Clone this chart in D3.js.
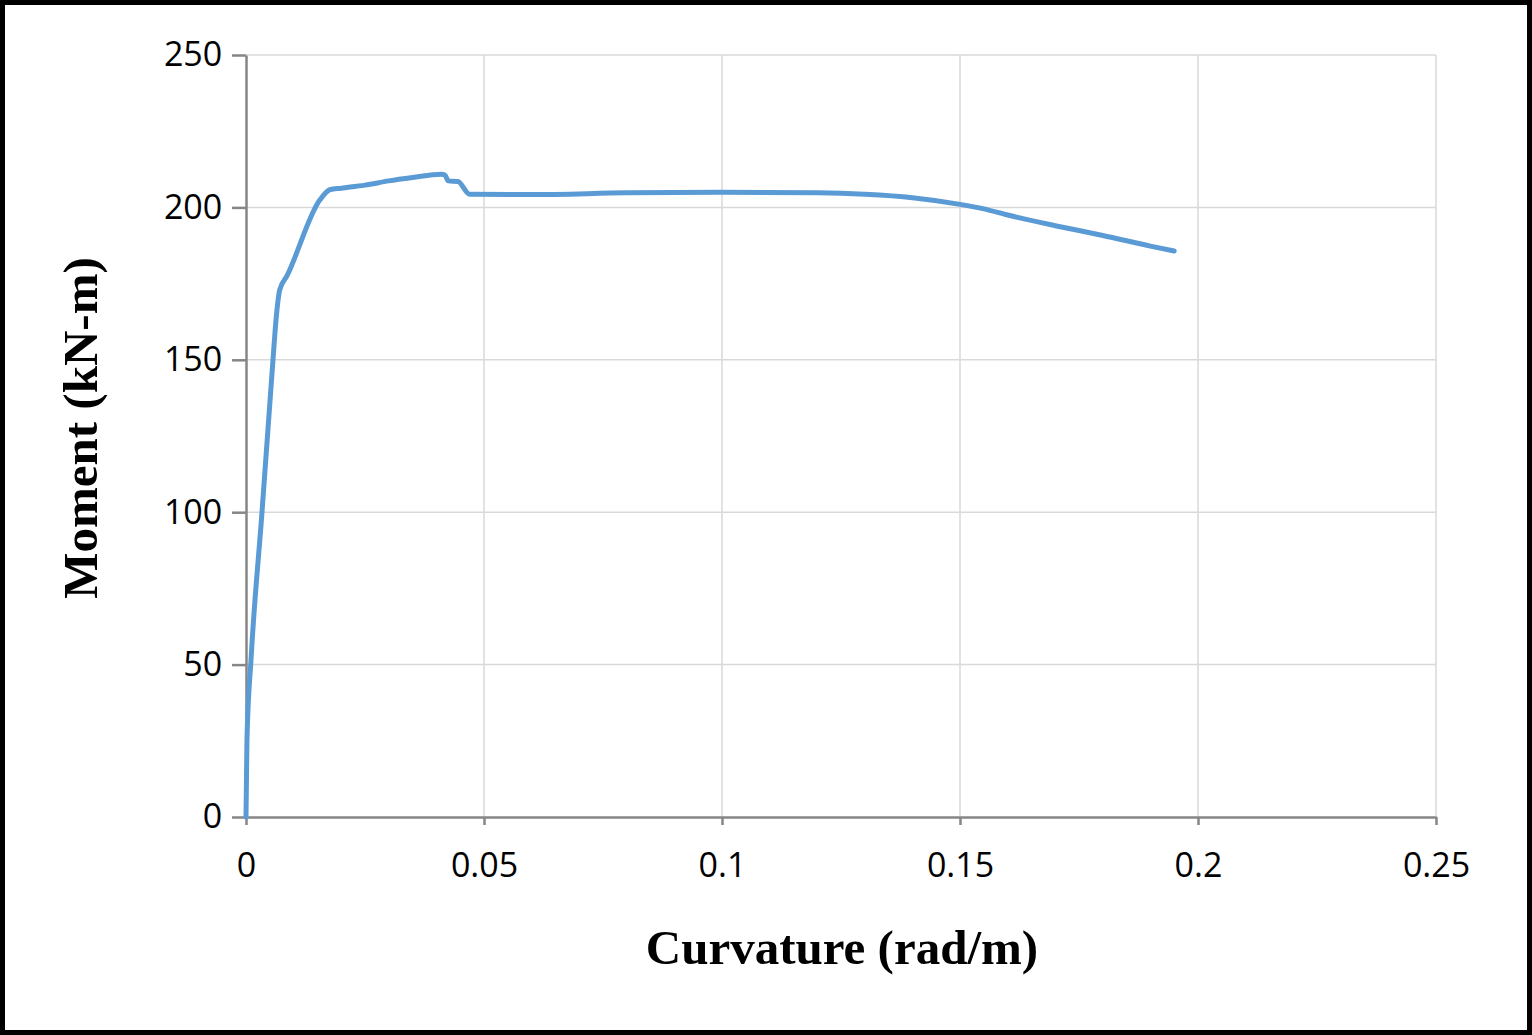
<!DOCTYPE html>
<html><head><meta charset="utf-8">
<script src="https://cdn.jsdelivr.net/npm/d3@7"></script>
<style>body{margin:0;background:#fff}</style>
</head><body>
<script>
var curvature = [0, 0.0002, 0.00105, 0.00336, 0.00567, 0.0063, 0.0071, 0.0086, 0.0155, 0.0176, 0.02, 0.025, 0.03, 0.035, 0.041, 0.0418, 0.0425, 0.0445, 0.047, 0.06, 0.08, 0.1, 0.12, 0.13, 0.14, 0.15, 0.155, 0.16, 0.17, 0.18, 0.19, 0.195];
var moment = [0, 25.3, 51.5, 100, 150, 163, 173, 177.5, 202.4, 205.8, 206.3, 207.3, 208.7, 209.8, 210.9, 210.6, 208.7, 208.5, 204.3, 204.2, 204.8, 205, 204.8, 204.3, 203.2, 201, 199.5, 197.5, 194, 190.8, 187.3, 185.7];
var xTicks = [0, 0.05, 0.1, 0.15, 0.2, 0.25];
var yTicks = [0, 50, 100, 150, 200, 250];

var width = 1532, height = 1035;
var svg = d3.select("body").append("svg").attr("width", width).attr("height", height);
svg.append("rect").attr("x", 2.5).attr("y", 2.5).attr("width", width - 5).attr("height", height - 5)
  .attr("fill", "#fff").attr("stroke", "#000").attr("stroke-width", 5);

var x = d3.scaleLinear().domain([0, 0.25]).range([246, 1436]);
var y = d3.scaleLinear().domain([0, 250]).range([817, 55]);

// grid
svg.selectAll(".gx").data(xTicks.slice(1)).enter().append("line")
  .attr("x1", d => x(d)).attr("x2", d => x(d)).attr("y1", y(0)).attr("y2", y(250))
  .attr("stroke", "#d9d9d9").attr("stroke-width", 1.5);
svg.selectAll(".gy").data(yTicks.slice(1)).enter().append("line")
  .attr("x1", x(0)).attr("x2", x(0.25)).attr("y1", d => y(d)).attr("y2", d => y(d))
  .attr("stroke", "#d9d9d9").attr("stroke-width", 1.5);

var xAxis = svg.append("g").attr("transform", "translate(0," + y(0) + ")")
  .call(d3.axisBottom(x).tickValues(xTicks).tickSize(8).tickSizeOuter(0).tickFormat(d => String(d)));
var yAxis = svg.append("g").attr("transform", "translate(" + x(0) + ",0)")
  .call(d3.axisLeft(y).tickValues(yTicks).tickSize(14).tickSizeOuter(0));
[xAxis, yAxis].forEach(function (g) {
  g.select(".domain").attr("stroke", "#868686").attr("stroke-width", 2.5);
  g.selectAll(".tick line").attr("stroke", "#868686").attr("stroke-width", 2.5);
  g.selectAll("text").attr("font-family", "'Open Sans', sans-serif").attr("font-size", 34).attr("fill", "#000");
});
xAxis.selectAll("text").attr("dy", "1.45em");
yAxis.selectAll("text").attr("dx", "-0.2em");

svg.append("path").datum(curvature.map((c, i) => [c, moment[i]]))
  .attr("fill", "none").attr("stroke", "#5b9bd5").attr("stroke-width", 5)
  .attr("stroke-linejoin", "round").attr("stroke-linecap", "round")
  .attr("d", d3.line().curve(d3.curveMonotoneX).x(d => x(d[0])).y(d => y(d[1])));

svg.append("text").attr("x", 842).attr("y", 964).attr("text-anchor", "middle")
  .attr("font-family", "'Liberation Serif', serif").attr("font-weight", "bold").attr("font-size", 49)
  .text("Curvature (rad/m)");
svg.append("text").attr("transform", "translate(97,428) rotate(-90)").attr("text-anchor", "middle")
  .attr("font-family", "'Liberation Serif', serif").attr("font-weight", "bold").attr("font-size", 49)
  .text("Moment (kN-m)");
</script>
</body></html>
